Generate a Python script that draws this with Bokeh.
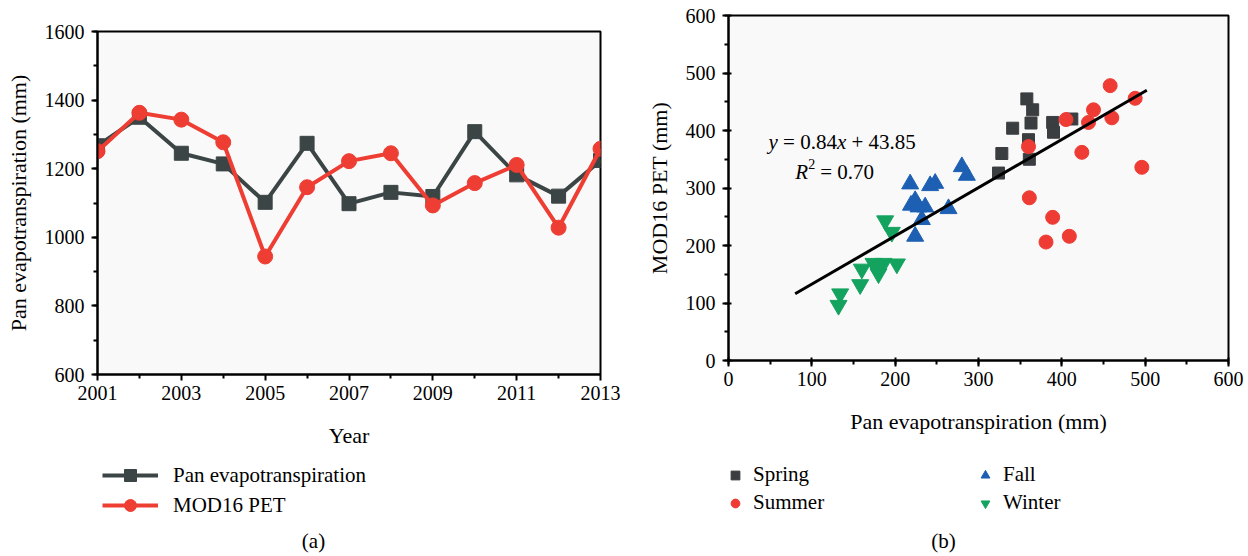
from bokeh.plotting import figure
from bokeh.layouts import row, column
from bokeh.models import Range1d, FixedTicker, Legend, LegendItem, Label
from bokeh.embed import file_html
from bokeh.resources import INLINE

FONT = "Liberation Serif"

# ---------------- data: panel (a) ----------------
years = [2001, 2002, 2003, 2004, 2005, 2006, 2007, 2008, 2009, 2010, 2011, 2012, 2013]
pan_et = [1267, 1350, 1245, 1214, 1102, 1274, 1098, 1131, 1119, 1308, 1182, 1120, 1224]
mod16_pet = [1251, 1363, 1343, 1277, 944, 1146, 1222, 1245, 1093, 1158, 1211, 1028, 1258]
year_ticks = [2001, 2003, 2005, 2007, 2009, 2011, 2013]
year_minor = [2002, 2004, 2006, 2008, 2010, 2012]

# ---------------- data: panel (b) ----------------
spring_x = [358, 365, 341, 363, 389, 390, 412, 360, 361, 328, 324]
spring_y = [455, 436, 404, 413, 414, 397, 420, 384, 350, 360, 326]
summer_x = [458, 488, 438, 460, 432, 405, 360, 424, 496, 361, 389, 409, 381]
summer_y = [478, 456, 436, 422, 414, 419, 372, 362, 336, 283, 249, 216, 206]
fall_x = [218, 242, 248, 280, 286, 219, 224, 228, 236, 264, 232, 224]
fall_y = [307, 304, 308, 337, 322, 270, 278, 267, 267, 264, 245, 216]
winter_x = [188, 196, 160, 158, 174, 186, 180, 202, 134, 132, 178]
winter_y = [243, 223, 159, 132, 169, 169, 151, 168, 116, 96, 160]
fit_x = [80, 502]
fit_y = [116, 470]
eq_parts = ["y", "= 0.84", "x", "+ 43.85"]
r2_parts = ["R", "2", "= 0.70"]

C_PAN = "#3c4545"
C_MOD = "#ee3e33"
C_SPRING = "#3b3e41"
C_SUMMER = "#ee3b34"
C_FALL = "#1d5fb3"
C_WINTER = "#14a35f"
C_BG = "#f9f9f9"


def style_axes(p, tick_in=0):
    for ax in (p.xaxis[0], p.yaxis[0]):
        ax.axis_line_width = 2
        ax.axis_line_color = "black"
        ax.major_tick_line_width = 2
        ax.minor_tick_line_width = 2
        ax.major_tick_line_color = "black"
        ax.minor_tick_line_color = "black"
        ax.major_tick_out = 6
        ax.major_tick_in = tick_in
        ax.minor_tick_out = 4
        ax.minor_tick_in = 0
        ax.major_label_text_font = FONT
        ax.major_label_text_font_size = "20px"
        ax.major_label_text_color = "black"
        ax.axis_label_text_font = FONT
        ax.axis_label_text_font_size = "22px"
        ax.axis_label_text_font_style = "normal"
        ax.axis_label_text_color = "black"
    p.xaxis[0].major_label_standoff = 5
    p.xaxis[0].axis_label_standoff = 20
    p.yaxis[0].major_label_standoff = 7
    p.yaxis[0].axis_label_standoff = 11
    p.xgrid.visible = False
    p.ygrid.visible = False
    p.outline_line_color = "black"
    p.outline_line_width = 2
    p.background_fill_color = C_BG
    p.border_fill_color = "white"


def legend_fig(width, left, right, height):
    # a strip below each panel that only shows the legend and the caption;
    # its 0..1 ranges keep the (real-data) legend renderers out of view
    f = figure(width=width, height=height, x_range=Range1d(0, 1), y_range=Range1d(0, 1),
               x_axis_type=None, y_axis_type=None, output_backend="svg", toolbar_location=None,
               min_border_left=left, min_border_right=right, min_border_top=0, min_border_bottom=0)
    f.xgrid.visible = False
    f.ygrid.visible = False
    f.outline_line_color = None
    f.background_fill_color = "white"
    f.border_fill_color = "white"
    return f


# ---------------- panel (a) ----------------
p1 = figure(width=640, height=462, x_range=Range1d(2001, 2013), y_range=Range1d(600, 1600),
            output_backend="svg", toolbar_location=None,
            min_border_left=97, min_border_right=40, min_border_top=31, min_border_bottom=88)
style_axes(p1)
p1.xaxis[0].ticker = FixedTicker(ticks=year_ticks, minor_ticks=year_minor)
p1.yaxis[0].ticker.desired_num_ticks = 6
p1.yaxis[0].ticker.num_minor_ticks = 2
p1.xaxis[0].axis_label = "Year"
p1.yaxis[0].axis_label = "Pan evapotranspiration (mm)"

p1.line(years, pan_et, line_color=C_PAN, line_width=4)
p1.scatter(years, pan_et, marker="square", size=14, fill_color=C_PAN, line_color=C_PAN)
p1.line(years, mod16_pet, line_color=C_MOD, line_width=4)
p1.scatter(years, mod16_pet, marker="circle", size=15, fill_color=C_MOD, line_color=C_MOD)

# legend area of panel (a)
g1 = legend_fig(640, 97, 40, 94)
gl1 = g1.line(years, pan_et, line_color=C_PAN, line_width=4)
gs1 = g1.scatter(years, pan_et, marker="square", size=14, fill_color=C_PAN, line_color=C_PAN)
gl2 = g1.line(years, mod16_pet, line_color=C_MOD, line_width=4)
gs2 = g1.scatter(years, mod16_pet, marker="circle", size=15, fill_color=C_MOD, line_color=C_MOD)
leg1 = Legend(items=[LegendItem(label="Pan evapotranspiration", renderers=[gl1, gs1]),
                     LegendItem(label="MOD16 PET", renderers=[gl2, gs2])],
              location=(5, 36), orientation="vertical",
              border_line_color=None, background_fill_alpha=0, padding=0, margin=0,
              glyph_width=56, glyph_height=30, label_height=30, spacing=-2, label_standoff=15,
              label_text_font=FONT, label_text_font_size="21px", label_text_color="black")
g1.add_layout(leg1)
g1.add_layout(Label(x=0.4294, y=0.17, text="(a)", text_font=FONT, text_font_size="21px",
                    text_align="center", text_baseline="middle", text_color="black"))

# ---------------- panel (b) ----------------
p2 = figure(width=608, height=462, x_range=Range1d(0, 600), y_range=Range1d(0, 600),
            output_backend="svg", toolbar_location=None,
            min_border_left=88, min_border_right=20, min_border_top=15, min_border_bottom=102)
style_axes(p2, tick_in=3)
p2.xaxis[0].ticker.desired_num_ticks = 7
p2.xaxis[0].ticker.num_minor_ticks = 2
p2.yaxis[0].ticker.desired_num_ticks = 7
p2.yaxis[0].ticker.num_minor_ticks = 2
p2.xaxis[0].axis_label = "Pan evapotranspiration (mm)"
p2.yaxis[0].axis_label = "MOD16 PET (mm)"

p2.scatter(spring_x, spring_y, marker="square", size=12, fill_color=C_SPRING, line_color=C_SPRING)
p2.scatter(summer_x, summer_y, marker="circle", size=14, fill_color=C_SUMMER, line_color=C_SUMMER)
p2.scatter(fall_x, fall_y, marker="triangle", size=17, fill_color=C_FALL, line_color=C_FALL)
p2.scatter(winter_x, winter_y, marker="inverted_triangle", size=17, fill_color=C_WINTER, line_color=C_WINTER)
p2.line(fit_x, fit_y, line_color="black", line_width=3)

# regression equation (mixed italic / normal pieces)
eq_styles = ["italic", "normal", "italic", "normal"]
eq_offsets = [0, 14.6, 68.4, 83]
for t, st, off in zip(eq_parts, eq_styles, eq_offsets):
    p2.add_layout(Label(x=48, y=380, text=t, x_offset=off, text_font=FONT, text_font_size="21px",
                        text_font_style=st, text_baseline="alphabetic", text_color="black"))
p2.add_layout(Label(x=80, y=327, text=r2_parts[0], text_font=FONT, text_font_size="21px",
                    text_font_style="italic", text_baseline="alphabetic", text_color="black"))
p2.add_layout(Label(x=80, y=327, x_offset=13, y_offset=8, text=r2_parts[1], text_font=FONT,
                    text_font_size="14px", text_baseline="alphabetic", text_color="black"))
p2.add_layout(Label(x=80, y=327, x_offset=25, text=r2_parts[2], text_font=FONT, text_font_size="21px",
                    text_baseline="alphabetic", text_color="black"))

# legend area of panel (b)
g2 = legend_fig(608, 88, 20, 94)
r_sp = g2.scatter(spring_x, spring_y, marker="square", fill_color=C_SPRING, line_color=C_SPRING)
r_su = g2.scatter(summer_x, summer_y, marker="circle", fill_color=C_SUMMER, line_color=C_SUMMER)
r_fa = g2.scatter(fall_x, fall_y, marker="triangle", fill_color=C_FALL, line_color=C_FALL)
r_wi = g2.scatter(winter_x, winter_y, marker="inverted_triangle", fill_color=C_WINTER, line_color=C_WINTER)
leg2 = Legend(items=[LegendItem(label="Spring", renderers=[r_sp]),
                     LegendItem(label="Summer", renderers=[r_su]),
                     LegendItem(label="Fall", renderers=[r_fa]),
                     LegendItem(label="Winter", renderers=[r_wi])],
              location=(-4, 41), orientation="vertical", nrows=2,
              border_line_color=None, background_fill_alpha=0, padding=0, margin=0,
              glyph_width=22, glyph_height=24, label_height=24, spacing=3, label_standoff=7,
              label_width=218,
              label_text_font=FONT, label_text_font_size="21px", label_text_color="black")
g2.add_layout(leg2)
g2.add_layout(Label(x=0.43, y=0.17, text="(b)", text_font=FONT, text_font_size="21px",
                    text_align="center", text_baseline="middle", text_color="black"))

layout = row(column(p1, g1), column(p2, g2))
open("out.html", "w").write(file_html(layout, INLINE))
